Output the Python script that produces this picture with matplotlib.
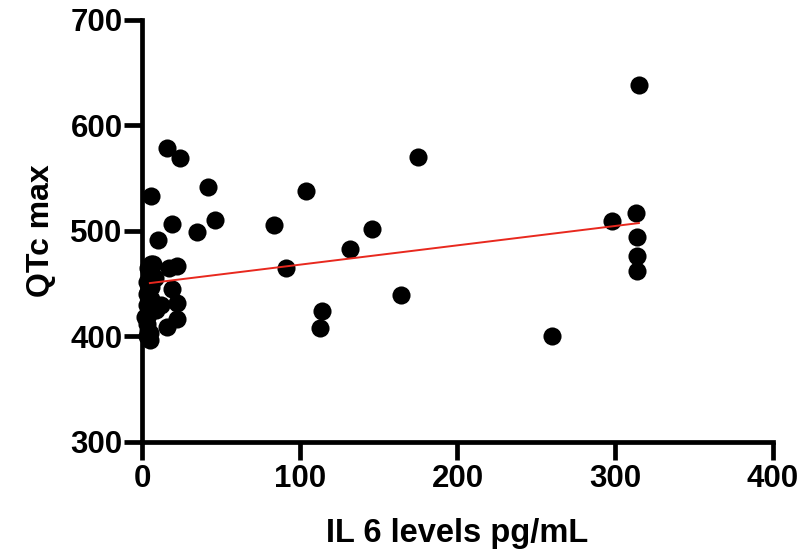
import matplotlib
matplotlib.use("Agg")
import matplotlib.pyplot as plt
import numpy as np

plt.rcParams['font.family'] = ['Liberation Sans', 'DejaVu Sans']

# IL-6 levels (pg/mL) and QTc max (ms)
il6 = [315, 313, 314, 314, 314, 298, 260, 175, 164, 146, 132, 114, 113, 104, 91, 84,
       46, 42, 35, 24, 16, 19, 10, 6,
       6, 22, 17, 19, 22, 22, 16, 5,
       3, 4, 3, 2, 5, 3, 6, 4, 6, 3, 5, 6, 4, 7, 5, 4, 3, 12, 8, 9]
qtc = [638, 517, 494, 476, 462, 509, 400, 570, 439, 502, 483, 424, 408, 538, 465, 506,
       510, 542, 499, 569, 579, 507, 491, 533,
       469, 467, 465, 445, 432, 417, 409, 397,
       400, 405, 412, 418, 424, 430, 436, 442, 447, 452, 457, 461, 465, 469, 403, 420, 440, 430, 455, 425]

# linear fit line
fit_intercept = 449.7
fit_slope = 0.1835
fit_x = [5, 315]

fig = plt.figure(figsize=(8.04, 5.58), dpi=100)
ax = fig.add_axes([0.1766, 0.2079, 0.9614 - 0.1766, 0.9642 - 0.2079])

ax.scatter(il6, qtc, s=170, color='black', zorder=3, clip_on=False, linewidths=0)
fx = np.array(fit_x, dtype=float)
ax.plot(fx, fit_intercept + fit_slope * fx, color='#e8281e', lw=1.4, zorder=4)

ax.set_xlim(0, 400)
ax.set_ylim(300, 700)
ax.set_xticks([0, 100, 200, 300, 400])
ax.set_yticks([300, 400, 500, 600, 700])
for s in ['top', 'right']:
    ax.spines[s].set_visible(False)
for s in ['left', 'bottom']:
    ax.spines[s].set_linewidth(3.4)
    ax.spines[s].set_capstyle('projecting')
ax.tick_params(axis='both', direction='out', length=13, width=3.4, labelsize=22.5)
ax.tick_params(axis='x', pad=3)
ax.tick_params(axis='y', pad=1)
for lab in ax.get_xticklabels() + ax.get_yticklabels():
    lab.set_fontweight('bold')

ax.set_xlabel('IL 6 levels pg/mL', fontsize=23.5, fontweight='bold', labelpad=17)
ax.set_ylabel('QTc max', fontsize=23, fontweight='bold', labelpad=10)

fig.savefig('out.png', dpi=100)
